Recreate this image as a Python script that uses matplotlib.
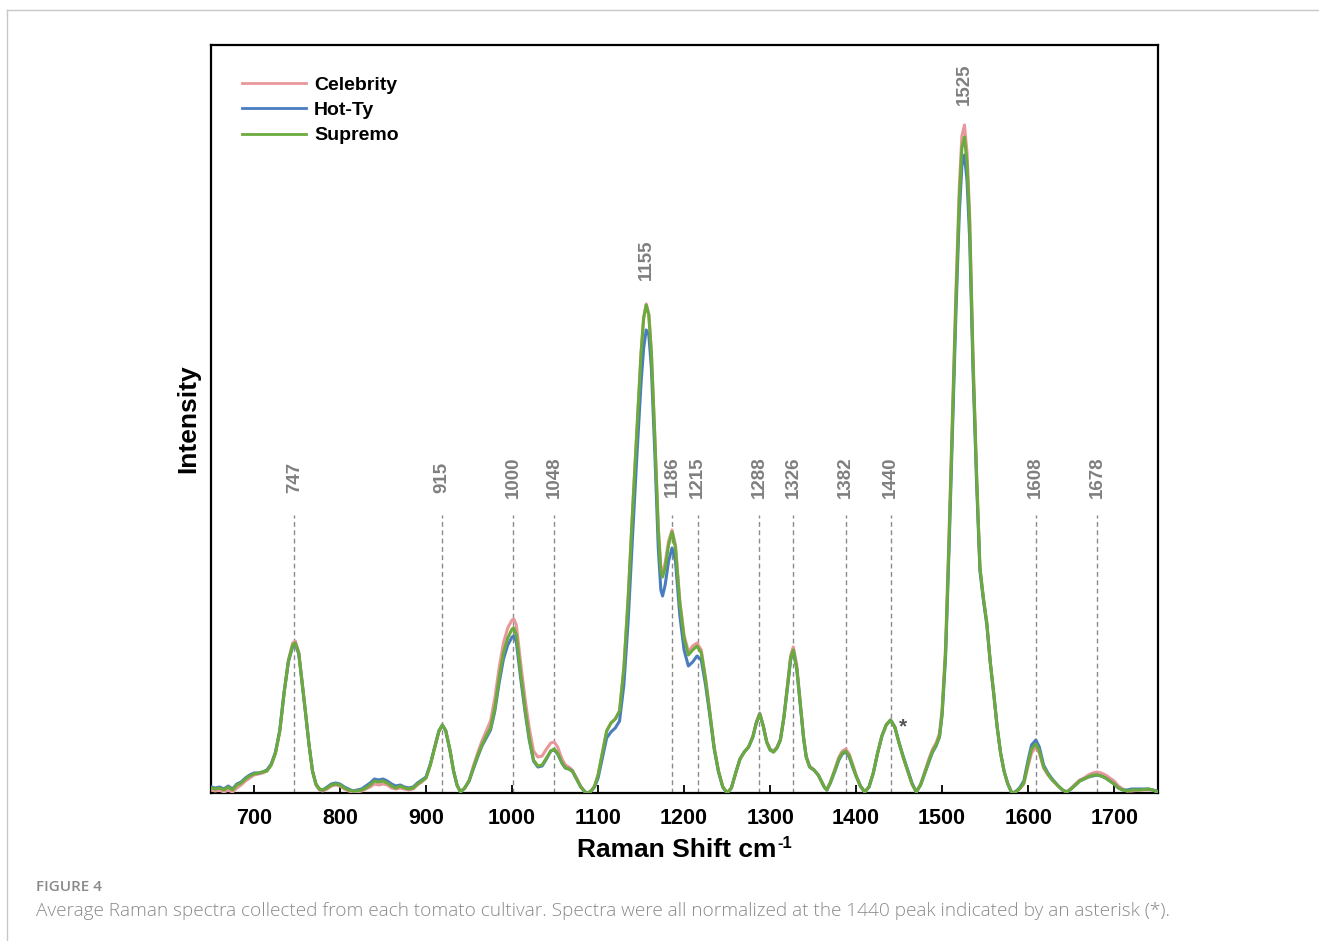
import matplotlib
matplotlib.use("Agg")
import matplotlib.pyplot as plt
from matplotlib.lines import Line2D

# ---------------- data ----------------
shift = [
    650, 655, 660, 665, 670, 675, 680, 685, 690, 695, 700,
    705, 710, 715, 720, 725, 730, 735, 740, 745, 748, 752, 756, 760, 764, 768, 772, 776, 780,
    785, 790, 795, 800, 805, 810, 815, 820, 825, 830, 835, 840, 845, 850, 855, 860, 865, 870, 875, 880, 885, 890, 895, 900,
    905, 910, 915, 919, 923, 928, 932, 936, 940,
    945, 950, 955, 960, 965, 970, 975, 980, 985, 990, 995, 1000, 1002, 1005, 1010, 1015, 1020, 1025, 1030, 1035, 1040, 1045, 1049, 1053, 1058, 1062, 1066, 1070, 1075, 1080, 1085, 1088,
    1092, 1096, 1100, 1105, 1110, 1115, 1120, 1125, 1130, 1135, 1140, 1145, 1150, 1153, 1156, 1159, 1162, 1166, 1170, 1173, 1175, 1178, 1182, 1186, 1190, 1195, 1200, 1205, 1210, 1215, 1220, 1225, 1230, 1235, 1240, 1245, 1250,
    1255, 1260, 1265, 1270, 1275, 1280, 1284, 1288, 1292, 1296, 1300, 1304, 1308, 1312, 1316, 1320, 1324, 1327, 1331, 1335, 1339, 1342, 1346, 1351, 1356, 1360, 1363, 1366,
    1370, 1375, 1380, 1384, 1388, 1392, 1396, 1400, 1405, 1410, 1415, 1420, 1425, 1430, 1435, 1440, 1445, 1450, 1455, 1460, 1465, 1470, 1475, 1480, 1485, 1489, 1493, 1497,
    1500, 1504, 1508, 1512, 1516, 1520, 1523, 1526, 1529, 1532, 1536, 1540, 1544, 1548, 1552, 1556, 1560, 1564, 1568, 1572, 1576, 1581,
    1585, 1590, 1595, 1600, 1604, 1609, 1613, 1618, 1623, 1628, 1635, 1640, 1645, 1650, 1655, 1660, 1665, 1670, 1675, 1680, 1685, 1690, 1695, 1700, 1705, 1710, 1715, 1720, 1730, 1740, 1745, 1750,
]

supremo = [
    5, 4, 5, 3, 6, 3, 8, 10, 14, 17, 19,
    20, 21, 22, 28, 40, 62, 100, 132, 148, 150, 140, 110, 80, 48, 22, 9, 4, 3,
    5, 8, 9, 8, 5, 3, 2, 2, 3, 5, 8, 12, 11, 12, 10, 7, 5, 7, 5, 4, 5, 9, 12, 15,
    28, 45, 62, 68, 62, 42, 22, 8, 1,
    5, 12, 25, 37, 48, 57, 65, 85, 115, 140, 155, 164, 165, 158, 120, 85, 55, 33, 27, 28, 35, 42, 44, 40, 30, 25, 24, 22, 14, 6, 1, 0,
    2, 7, 18, 40, 62, 70, 74, 82, 125, 195, 280, 360, 440, 475, 488, 478, 440, 355, 263, 222, 216, 225, 248, 261, 245, 190, 155, 138, 143, 147, 140, 113, 80, 45, 22, 6, 0,
    5, 20, 34, 41, 46, 56, 70, 79, 67, 51, 43, 41, 45, 53, 75, 105, 135, 143, 125, 90, 55, 36, 26, 23, 18, 11, 6, 3,
    10, 22, 34, 40, 42, 37, 27, 17, 7, 1, 6, 20, 40, 57, 68, 73, 66, 50, 35, 22, 9, 1, 8, 20, 33, 42, 48, 57,
    80, 140, 250, 370, 490, 595, 645, 656, 630, 570, 430, 320, 225, 195, 170, 131, 100, 66, 40, 22, 10, 0,
    1, 4, 10, 30, 44, 49, 42, 26, 19, 13, 7, 3, 1, 4, 8, 12, 14, 16, 18, 18, 17, 15, 12, 9, 5, 3, 2, 3, 3, 4, 3, 1,
]

celebrity = [
    3, 2, 3, 1, 3, 1, 5, 8, 12, 15, 18,
    19, 20, 22, 28, 40, 62, 100, 133, 150, 152, 141, 111, 80, 48, 22, 8, 3, 2,
    4, 7, 8, 7, 4, 2, 1, 1, 2, 4, 6, 9, 8, 9, 8, 5, 4, 5, 4, 3, 4, 8, 11, 15,
    28, 45, 62, 68, 62, 42, 22, 8, 1,
    5, 12, 27, 40, 52, 62, 72, 95, 125, 150, 165, 173, 174, 168, 130, 95, 65, 42, 36, 37, 44, 50, 51, 46, 34, 28, 26, 23, 15, 6, 1, 0,
    2, 7, 18, 40, 62, 70, 74, 82, 125, 195, 280, 360, 440, 475, 489, 479, 441, 357, 266, 226, 220, 230, 252, 263, 248, 193, 158, 141, 147, 150, 143, 115, 81, 46, 22, 6, 0,
    5, 20, 34, 41, 46, 57, 71, 80, 68, 52, 44, 42, 46, 54, 76, 107, 138, 146, 128, 92, 56, 37, 27, 23, 18, 11, 6, 3,
    11, 23, 36, 42, 44, 39, 29, 18, 7, 1, 6, 20, 40, 57, 68, 73, 66, 50, 35, 22, 9, 1, 9, 22, 35, 44, 50, 60,
    84, 146, 258, 380, 500, 606, 657, 668, 640, 578, 435, 322, 226, 195, 170, 131, 100, 66, 40, 22, 10, 0,
    1, 4, 9, 27, 40, 46, 40, 25, 18, 13, 7, 3, 1, 5, 9, 13, 15, 18, 20, 21, 20, 18, 15, 12, 7, 4, 2, 2, 3, 3, 3, 1,
]

hot_ty = [
    6, 5, 6, 4, 7, 4, 9, 11, 15, 18, 20,
    20, 21, 23, 29, 41, 63, 101, 131, 147, 149, 139, 109, 79, 48, 22, 9, 4, 3,
    6, 9, 10, 9, 6, 4, 2, 3, 4, 7, 10, 14, 13, 14, 12, 9, 7, 8, 6, 5, 6, 10, 13, 16,
    29, 46, 62, 68, 62, 42, 22, 8, 1,
    5, 12, 24, 36, 47, 55, 63, 82, 110, 134, 148, 156, 157, 151, 115, 82, 53, 32, 26, 27, 34, 42, 43, 39, 30, 25, 24, 22, 14, 6, 1, 0,
    2, 6, 15, 35, 55, 61, 65, 72, 108, 172, 255, 335, 410, 445, 463, 458, 425, 340, 245, 203, 197, 208, 232, 245, 232, 178, 143, 127, 131, 137, 133, 108, 77, 44, 21, 6, 0,
    5, 20, 34, 41, 46, 56, 70, 79, 67, 51, 43, 41, 45, 53, 75, 104, 134, 142, 124, 89, 54, 36, 26, 23, 18, 11, 6, 3,
    10, 21, 33, 39, 41, 36, 26, 17, 7, 1, 6, 20, 40, 57, 68, 73, 66, 50, 36, 23, 10, 1, 8, 20, 32, 41, 47, 56,
    78, 135, 242, 360, 478, 580, 627, 638, 612, 555, 420, 312, 222, 193, 168, 130, 99, 66, 40, 22, 10, 0,
    1, 5, 12, 33, 48, 53, 46, 28, 20, 14, 7, 3, 1, 4, 8, 12, 14, 16, 17, 18, 17, 15, 12, 9, 5, 3, 3, 4, 4, 4, 3, 2,
]

series_names = ["Celebrity", "Hot-Ty", "Supremo"]
series_colors = ["#E8979B", "#4A7CC0", "#6BAA3C"]

xticks = [700, 800, 900, 1000, 1100, 1200, 1300, 1400, 1500, 1600, 1700]

peak_labels = ["747", "915", "1000", "1048", "1186", "1215", "1288", "1326",
               "1382", "1440", "1608", "1678"]
peak_pos = [747, 918, 1001, 1049, 1186, 1216, 1287, 1327, 1388, 1440, 1609, 1680]
top_labels = ["1155", "1525"]
top_pos = [1156, 1526]

caption_title = "FIGURE 4"
caption_text = ("Average Raman spectra collected from each tomato cultivar. Spectra were all "
                "normalized at the 1440 peak indicated by an asterisk (*).")

# ---------------- figure ----------------
plt.rcParams['font.family'] = ['Liberation Sans', 'DejaVu Sans']

W, H = 1319, 941
fig = plt.figure(figsize=(W / 100, H / 100), dpi=100)

# outer light frame (top and left edges)
fig.add_artist(Line2D([6.5 / W, 6.5 / W], [0, 1 - 9.5 / H], color="#c8c8c8", lw=1.0))
fig.add_artist(Line2D([6.5 / W, 1], [1 - 9.5 / H, 1 - 9.5 / H], color="#c8c8c8", lw=1.0))

ax = fig.add_axes([211 / W, 1 - 793 / H, (1158 - 211) / W, (793 - 45) / H])

# dashed reference lines
for p in peak_pos:
    ax.plot([p, p], [0, 278], color="#8a8a8a", lw=1.0, ls=(0, (3.5, 2.5)), zorder=1)

# spectra
data = [celebrity, hot_ty, supremo]
for vals, name, col in zip(data, series_names, series_colors):
    ax.plot(shift, vals, color=col, lw=2.2, label=name, zorder=3,
            solid_joinstyle='round')

# peak labels
for lab, p in zip(peak_labels, peak_pos):
    ax.text(p, 316, lab, rotation=90, ha='center', va='center', fontsize=13.5,
            fontweight='bold', color="#7f7f7f", zorder=4)
for lab, p, yv in zip(top_labels, top_pos, [533, 709]):
    ax.text(p, yv, lab, rotation=90, ha='center', va='center', fontsize=13.5,
            fontweight='bold', color="#7f7f7f", zorder=4)

ax.text(1455, 66, "*", ha='center', va='center', fontsize=15, color="#555555",
        fontweight='bold')

ax.set_xlim(650, 1751)
ax.set_ylim(0, 748)
ax.set_xticks(xticks)
ax.set_yticks([])
ax.tick_params(axis='x', direction='in', length=6, width=1.3, pad=11,
               labelsize=15.5)
for t in ax.get_xticklabels():
    t.set_fontweight('bold')
for s in ax.spines.values():
    s.set_linewidth(1.6)
    s.set_color('black')

xl = ax.set_xlabel("Raman Shift cm", fontsize=19, fontweight='bold', labelpad=6)
ax.set_ylabel("Intensity", fontsize=19, fontweight='bold', labelpad=8)

leg = ax.legend(loc='upper left', bbox_to_anchor=(31 / 947, 1 - 31 / 748),
                frameon=False, fontsize=14, handlelength=3.3, handletextpad=0.4,
                labelspacing=0.4, borderaxespad=0, borderpad=0)
for t in leg.get_texts():
    t.set_fontweight('bold')
for l in leg.get_lines():
    l.set_linewidth(2.0)

# caption
fig.text(36 / W, 1 - 887 / H, caption_title, fontsize=11, color="#8a8a8a",
         family=['Open Sans', 'DejaVu Sans'], fontweight='semibold', va='center')
fig.text(36 / W, 1 - 911 / H, caption_text, fontsize=13.7, color="#8a8a8a",
         family=['Open Sans', 'DejaVu Sans'], fontweight='light', va='center')

# superscript "-1" after the x label, shifted left so the label stays centred
fig.canvas.draw()
r = fig.canvas.get_renderer()
sup = fig.text(0, 0, "-1", fontsize=12, fontweight='bold', transform=None,
               va='center')
sb = sup.get_window_extent(r)
xl.set_x(xl.get_position()[0] - (sb.width / 2.0) / ax.bbox.width)
fig.canvas.draw()
bb = xl.get_window_extent(r)
sup.set_position((bb.x1 + 1, bb.y1 - 0.42 * sb.height))

fig.savefig("out.png", dpi=100)
